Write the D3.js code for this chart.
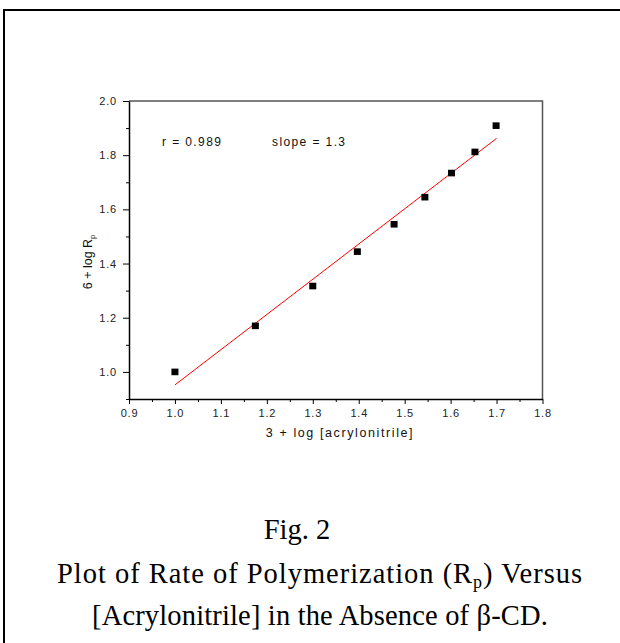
<!DOCTYPE html>
<html>
<head>
<meta charset="utf-8">
<script src="https://cdn.jsdelivr.net/npm/d3@7"></script>
<style>
  body { margin: 0; background: #fff; }
  svg { display: block; }
  .tick text { font-family: "Liberation Sans", Arial, sans-serif; font-size: 11px; fill: #222; letter-spacing: 0.8px; }
</style>
</head>
<body>
<svg id="chart" width="620" height="643"></svg>
<script>
"use strict";
var logMonomer = [ 1.0, 1.175, 1.30, 1.397, 1.477, 1.544, 1.602, 1.653, 1.699 ];
var logRate = [ 1.0, 1.17, 1.317, 1.444, 1.545, 1.645, 1.734, 1.812, 1.909 ];
// least squares line as drawn (end points)
var fitX = [ 1.0, 1.70 ];
var fitY = [ 0.952, 1.862 ];
var xTicks = [ 0.9, 1.0, 1.1, 1.2, 1.3, 1.4, 1.5, 1.6, 1.7, 1.8 ];
var yTicks = [ 1.0, 1.2, 1.4, 1.6, 1.8, 2.0 ];
var captionLines = [ "Fig. 2", "Plot of Rate of Polymerization (R", "[Acrylonitrile] in the Absence of β-CD." ];

var svg = d3.select( "#chart" );

// page frame (top and left rule)
svg.append( "line" ).attr( "x1", 3 ).attr( "x2", 620 ).attr( "y1", 10 ).attr( "y2", 10 )
   .attr( "stroke", "#000" ).attr( "stroke-width", 2 );
svg.append( "line" ).attr( "x1", 4 ).attr( "x2", 4 ).attr( "y1", 10 ).attr( "y2", 643 )
   .attr( "stroke", "#000" ).attr( "stroke-width", 2 );

var pLeft = 129, pRight = 542.5, pTop = 101, pBottom = 399;
var x = d3.scaleLinear().domain( [ 0.9, 1.8 ] ).range( [ pLeft, pRight ] );
var y = d3.scaleLinear().domain( [ 0.9, 2.0 ] ).range( [ pBottom, pTop ] );

// top and right frame of the plot
svg.append( "path" )
   .attr( "d", "M" + pLeft + "," + pTop + "H" + pRight + "V" + pBottom )
   .attr( "fill", "none" ).attr( "stroke", "#555" ).attr( "stroke-width", 1.5 );

function minorTicks( a, b, step ) {
  var t = [];
  for ( var i = 0; a + i * step <= b + 1e-9; i += 1 ) {
    t.push( +( a + i * step ).toFixed( 3 ) );
  }
  return t;
}

// minor ticks
svg.append( "g" ).attr( "transform", "translate(0," + pBottom + ")" )
   .call( d3.axisBottom( x ).tickValues( minorTicks( 0.95, 1.75, 0.1 ) ).tickSize( 3 ).tickFormat( "" ) )
   .call( function( g ) { g.select( ".domain" ).remove(); } );
svg.append( "g" ).attr( "transform", "translate(" + pLeft + ",0)" )
   .call( d3.axisLeft( y ).tickValues( minorTicks( 0.9, 1.9, 0.2 ) ).tickSize( 3 ).tickFormat( "" ) )
   .call( function( g ) { g.select( ".domain" ).remove(); } );

// major axes
var xAxis = svg.append( "g" ).attr( "transform", "translate(0," + pBottom + ")" )
   .call( d3.axisBottom( x ).tickValues( xTicks ).tickSize( 5 ).tickSizeOuter( 0 ).tickFormat( d3.format( ".1f" ) ) );
var yAxis = svg.append( "g" ).attr( "transform", "translate(" + pLeft + ",0)" )
   .call( d3.axisLeft( y ).tickValues( yTicks ).tickSize( 6 ).tickSizeOuter( 0 ).tickFormat( d3.format( ".1f" ) ) );
[ xAxis, yAxis ].forEach( function( g ) {
  g.select( ".domain" ).attr( "stroke", "#000" ).attr( "stroke-width", 1.5 );
  g.selectAll( ".tick line" ).attr( "stroke", "#000" );
} );
xAxis.selectAll( ".tick text" ).attr( "y", 10.5 );
yAxis.selectAll( ".tick text" ).attr( "x", -12 );

// fit line
svg.append( "line" )
   .attr( "x1", x( fitX[0] ) ).attr( "y1", y( fitY[0] ) )
   .attr( "x2", x( fitX[1] ) ).attr( "y2", y( fitY[1] ) )
   .attr( "stroke", "#f00" ).attr( "stroke-width", 1 );

// data points
svg.append( "g" ).selectAll( "rect" )
   .data( d3.zip( logMonomer, logRate ) )
   .join( "rect" )
   .attr( "x", function( d ) { return x( d[0] ) - 3.5; } )
   .attr( "y", function( d ) { return y( d[1] ) - 3.3; } )
   .attr( "width", 7 ).attr( "height", 6.6 )
   .attr( "fill", "#000" );

var sans = "'Liberation Sans', Arial, sans-serif";

svg.append( "text" ).attr( "x", 162 ).attr( "y", 146 )
   .attr( "font-family", sans ).attr( "font-size", 12 ).attr( "letter-spacing", 1.4 ).attr( "fill", "#111" )
   .text( "r = 0.989" );
svg.append( "text" ).attr( "x", 272 ).attr( "y", 146 )
   .attr( "font-family", sans ).attr( "font-size", 12 ).attr( "letter-spacing", 1.4 ).attr( "fill", "#111" )
   .text( "slope = 1.3" );

// axis titles
svg.append( "text" ).attr( "x", 340 ).attr( "y", 437 ).attr( "text-anchor", "middle" )
   .attr( "font-family", sans ).attr( "font-size", 12.5 ).attr( "letter-spacing", 1.6 ).attr( "fill", "#111" )
   .text( "3 + log [acrylonitrile]" );
var yl = svg.append( "text" )
   .attr( "transform", "translate(92,262) rotate(-90)" ).attr( "text-anchor", "middle" )
   .attr( "font-family", sans ).attr( "font-size", 12.5 ).attr( "fill", "#111" );
yl.append( "tspan" ).text( "6 + log R" );
yl.append( "tspan" ).attr( "font-size", 7.5 ).attr( "dy", 3 ).text( "p" );

// caption
var serif = "'Liberation Serif', 'Times New Roman', serif";
function fitWidth( sel, target ) {
  var n = sel.text().length;
  var w = sel.node().getComputedTextLength();
  sel.attr( "letter-spacing", ( target - w ) / n );
}
svg.append( "text" ).attr( "x", 297 ).attr( "y", 539 ).attr( "text-anchor", "middle" )
   .attr( "font-family", serif ).attr( "font-size", 28.5 ).attr( "fill", "#000" )
   .text( captionLines[0] );
var c2 = svg.append( "text" ).attr( "x", 320 ).attr( "y", 583 ).attr( "text-anchor", "middle" )
   .attr( "font-family", serif ).attr( "font-size", 28.5 ).attr( "fill", "#000" );
c2.append( "tspan" ).text( captionLines[1] );
c2.append( "tspan" ).attr( "font-size", 18 ).attr( "dy", 5 ).text( "p" );
c2.append( "tspan" ).attr( "dy", -5 ).text( ") Versus" );
fitWidth( c2, 526 );
var c3 = svg.append( "text" ).attr( "x", 320 ).attr( "y", 625 ).attr( "text-anchor", "middle" )
   .attr( "font-family", serif ).attr( "font-size", 28.5 ).attr( "fill", "#000" )
   .text( captionLines[2] );
fitWidth( c3, 456 );
</script>
</body>
</html>
